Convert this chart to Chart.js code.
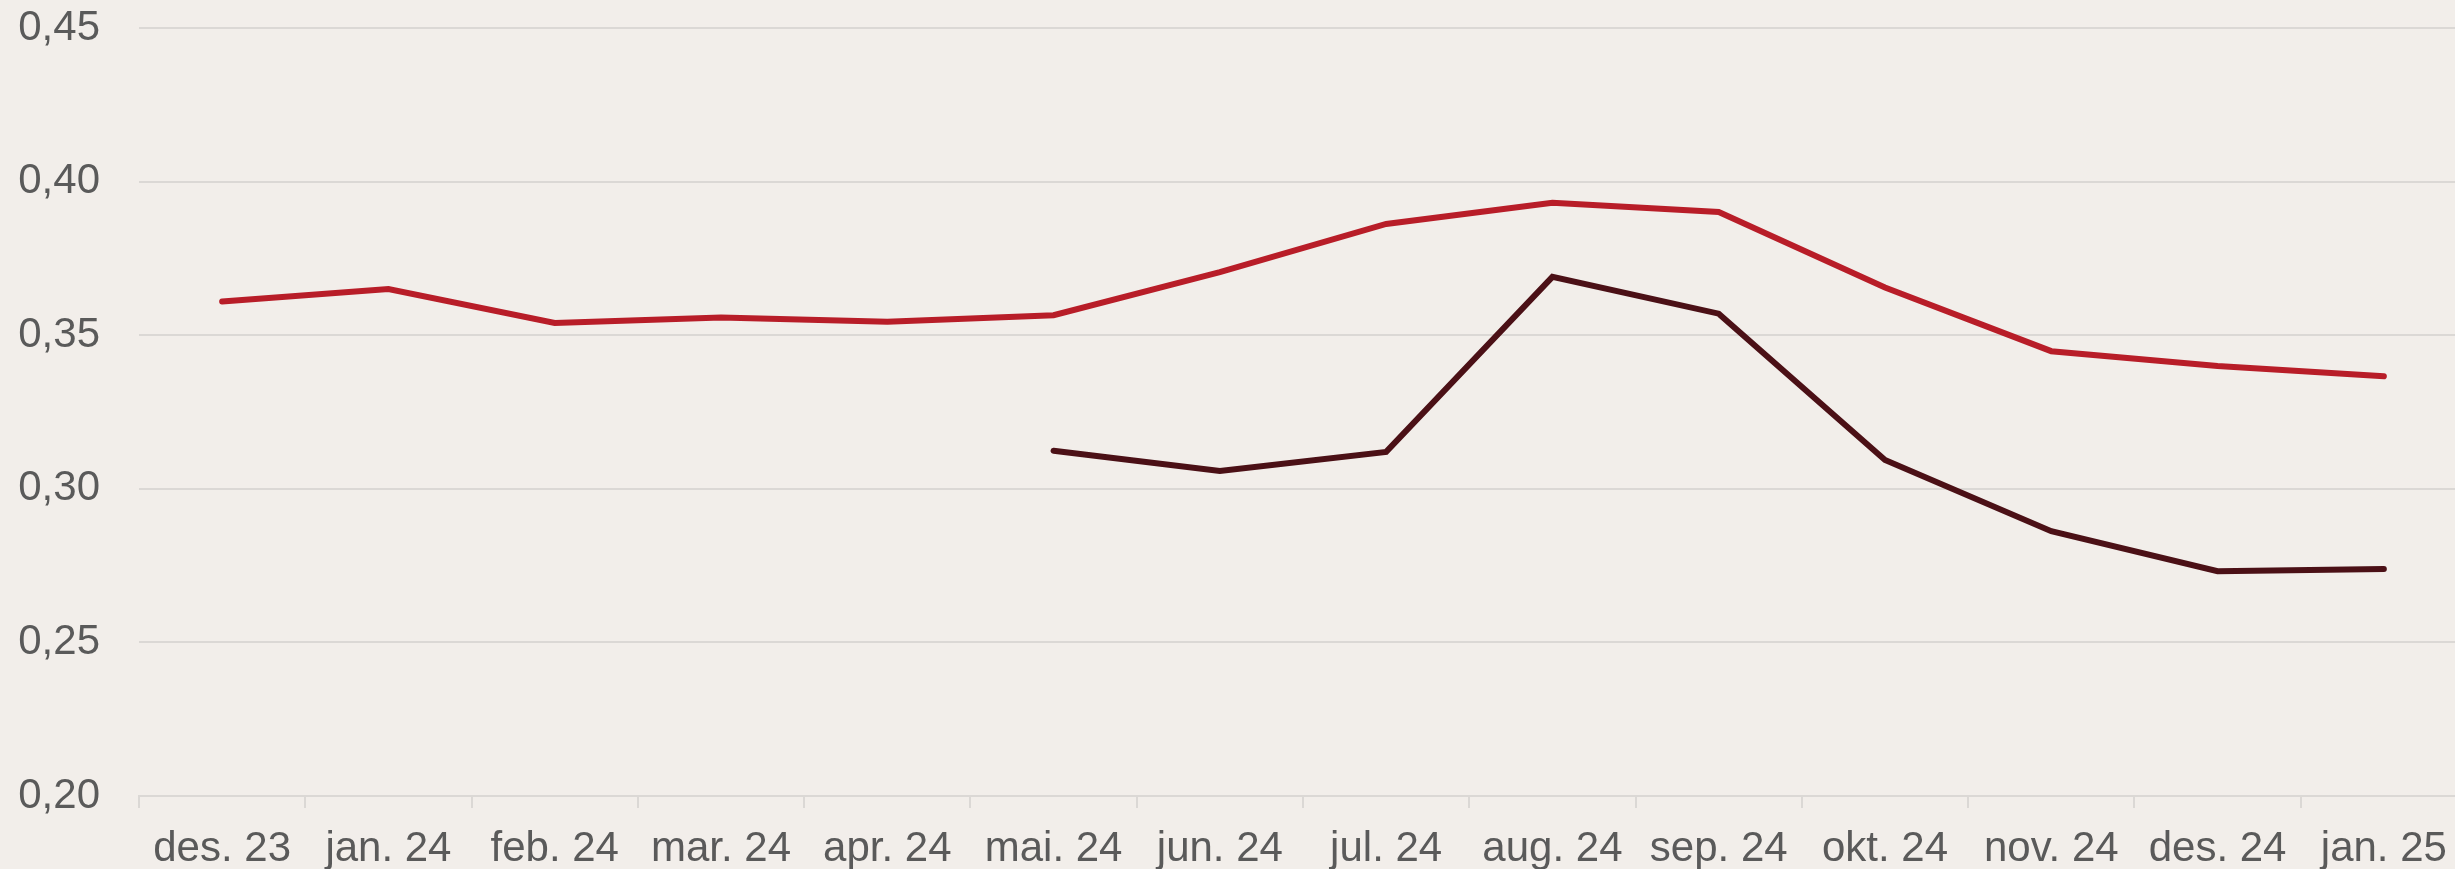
<!DOCTYPE html>
<html>
<head>
<meta charset="utf-8">
<script src="https://cdn.jsdelivr.net/npm/chart.js@4"></script>
<style>
  html, body { margin: 0; padding: 0; background: #f2eeea; overflow: hidden; }
  #wrap { width: 2470px; height: 869px; position: relative; }
</style>
</head>
<body>
<div id="wrap"><canvas id="chart"></canvas></div>
<script>
// data
const months = ["des. 23", "jan. 24", "feb. 24", "mar. 24", "apr. 24", "mai. 24", "jun. 24",
                "jul. 24", "aug. 24", "sep. 24", "okt. 24", "nov. 24", "des. 24", "jan. 25"];
const redSeries = [0.361, 0.365, 0.354, 0.3558, 0.3544, 0.3565, 0.3705, 0.3862, 0.3931, 0.3901, 0.3655, 0.3448, 0.3400, 0.3366];
const darkSeries = [null, null, null, null, null, 0.3124, 0.3058, 0.3120, 0.3690, 0.3570, 0.3094, 0.2862, 0.2732, 0.2739];
const yTicks = { min: 0.20, max: 0.45, step: 0.05 };

const textColor = "#5a5a5a";
const gridColor = "#dbd8d5";
const font = { family: "'Liberation Sans', Arial, sans-serif", size: 42 };

new Chart(document.getElementById("chart").getContext("2d"), {
    type: "line",
    data: {
        labels: months,
        datasets: [
            {
                label: "red",
                data: redSeries,
                borderColor: "#b81d28",
                borderWidth: 6,
                borderCapStyle: "round",
                pointRadius: 0,
                tension: 0,
                fill: false
            },
            {
                label: "dark",
                data: darkSeries,
                borderColor: "#4b1016",
                borderWidth: 6,
                borderCapStyle: "round",
                pointRadius: 0,
                tension: 0,
                fill: false
            }
        ]
    },
    options: {
        responsive: true,
        maintainAspectRatio: false,
        animation: false,
        devicePixelRatio: 1,
        layout: { padding: { top: 28, right: 3, left: 0, bottom: 0 } },
        plugins: { legend: { display: false }, tooltip: { enabled: false } },
        scales: {
            x: {
                offset: true,
                border: { display: true, color: gridColor, width: 2 },
                grid: {
                    offset: true,
                    drawOnChartArea: false,
                    drawTicks: true,
                    tickLength: 12,
                    color: gridColor,
                    lineWidth: 2
                },
                ticks: { color: textColor, font: font, padding: 16, maxRotation: 0, autoSkip: false },
                afterFit: s => { s.height = 73; s.paddingLeft = 0; s.paddingRight = 0; }
            },
            y: {
                min: yTicks.min,
                max: yTicks.max,
                border: { display: false },
                grid: { color: gridColor, lineWidth: 2, drawTicks: false },
                ticks: {
                    stepSize: yTicks.step,
                    color: textColor,
                    font: font,
                    padding: 39,
                    callback: v => v.toFixed(2).replace(".", ",")
                },
                afterFit: s => { s.width = 139; s.paddingTop = 0; s.paddingBottom = 0; }
            }
        }
    }
});
</script>
</body>
</html>
